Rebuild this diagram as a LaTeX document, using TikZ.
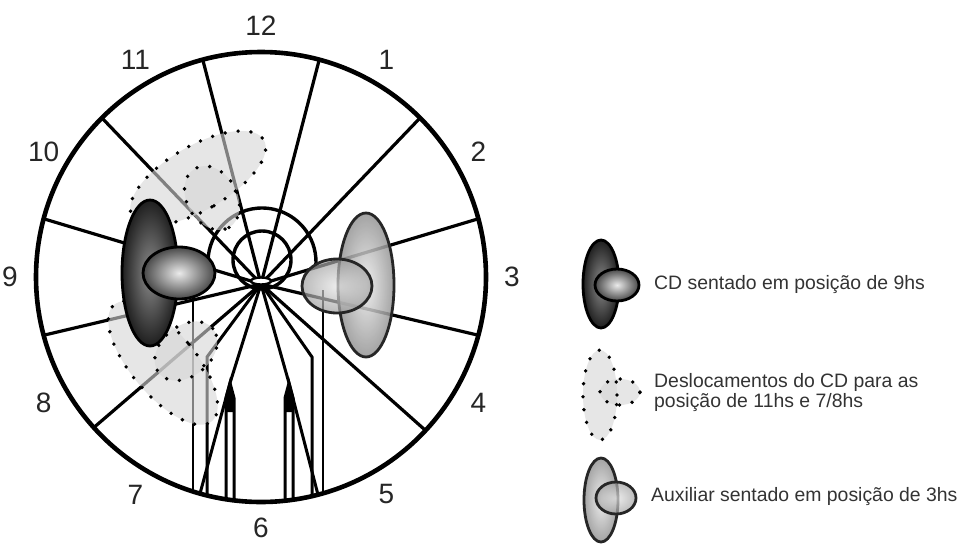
\documentclass[tikz,border=0pt]{standalone}
\usepackage{fontspec}
\setmainfont{Liberation Sans}
\usetikzlibrary{calc}

\begin{document}
\begin{tikzpicture}[x=1pt, y=1pt,
        spoke/.style={line width=3.2pt},
        rim/.style={line width=4.6pt},
        shaft/.style={line width=3pt},
        dots/.style={line width=3.8pt, line cap=round, dash pattern=on 0pt off 13pt},
        ghost/.style={fill=black!16, fill opacity=0.6},
        outline/.style={line width=2.8pt},
        hour/.style={font=\fontsize{28}{30}\selectfont, text=black!85, inner sep=0pt},
        caption/.style={font=\fontsize{19.4}{19.5}\selectfont, text=black!80, anchor=west, align=left, inner sep=0pt}]
        \def\R{225}

        \fill[white] (0,0) rectangle (963,-544);
        \useasboundingbox (0,0) rectangle (963,-544);

        \coordinate (O) at (261,-277);  % centre of the clock
        \coordinate (F) at (261,-284);  % where the spokes meet

        % Spokes between the hours
        \foreach \a in {15,45,75,105,135,165,195,222,-15,-43}
            \draw[spoke] (F) -- ($(O)+(\a:\R)$);

        % Instruments running down to 6
        \coordinate (lapex) at (230,-383);
        \coordinate (rapex) at (289,-383);
        \draw[shaft] (F) -- (lapex) -- (200,-493.6);
        \draw[shaft] (226,-499.4) -- (226,-398) -- (lapex) -- (234,-398) -- (234,-500.3);
        \fill (230,-379) -- (225,-412) -- (235,-412) -- cycle;
        \draw[shaft] (F) -- (rapex) -- (318,-494.7);
        \draw[shaft] (285,-500.6) -- (285,-398) -- (rapex) -- (293,-398) -- (293,-499.6);
        \fill (289,-379) -- (284,-412) -- (294,-412) -- cycle;

        % Bent shafts and the lines down from the two heads
        \draw[shaft] (F) -- (207,-357) -- (207,-495.4);
        \draw[shaft] (F) -- (312,-357) -- (312,-496.1);
        \draw[line width=2.6pt] (193,-280) -- (193,-491.5);
        \draw[line width=2.6pt] (323,-290) -- (323,-493.3);

        % Port in the middle
        \draw[line width=3.4pt] (262,-260) circle (29);
        \draw[line width=3.4pt] ($(262,-262)+(185:54)$) arc (185:-5:54);
        \draw[line width=2.4pt, fill=white] (261,-281) ellipse (10 and 3.5);

        % CD moved to 11 and to 7/8
        \fill[ghost, shift={(198,-178)}, rotate=-60] (0,0) ellipse (32 and 76);
        \fill[ghost, shift={(212,-198)}, rotate=-60] (0,0) ellipse (34 and 25);
        \draw[dots, shift={(198,-178)}, rotate=-60] (0,0) ellipse (32 and 76);
        \draw[dots, shift={(212,-198)}, rotate=-60] (0,0) ellipse (34 and 25);
        \fill[ghost, shift={(163,-363)}, rotate=40] (0,0) ellipse (32 and 76);
        \fill[ghost, shift={(186,-351)}, rotate=40] (0,0) ellipse (35 and 25);
        \draw[dots, shift={(163,-363)}, rotate=40] (0,0) ellipse (32 and 76);
        \draw[dots, shift={(186,-351)}, rotate=40] (0,0) ellipse (35 and 25);

        % CD seated at 9
        \shade[inner color=black!45, outer color=black!88] (150,-273) ellipse (28 and 73);
        \draw[outline] (150,-273) ellipse (28 and 73);
        \shade[inner color=black!8, outer color=black!72] (179,-273) ellipse (36 and 26);
        \draw[outline] (179,-273) ellipse (36 and 26);

        % Assistant seated at 3
        \shade[inner color=black!8, outer color=black!42, fill opacity=0.85] (366,-285) ellipse (28 and 72);
        \draw[outline, black!85] (366,-285) ellipse (28 and 72);
        \shade[inner color=black!10, outer color=black!38, fill opacity=0.7] (337,-286) ellipse (35 and 27);
        \draw[outline, black!85] (337,-286) ellipse (35 and 27);

        % Clock rim and hours
        \draw[rim] (O) circle (\R);
        \foreach \h in {1,...,12}
            \node[hour] (h\h) at ($(O)+({90-30*\h}:251)$) {\h};

        % Legend
        \shade[inner color=black!45, outer color=black!88] (601,-284) ellipse (18 and 44);
        \draw[outline] (601,-284) ellipse (18 and 44);
        \shade[inner color=black!8, outer color=black!72] (617,-285) ellipse (22 and 16);
        \draw[outline] (617,-285) ellipse (22 and 16);
        \node[caption] (cd9) at (654,-285) {CD sentado em posição de 9hs};

        \fill[ghost] (600,-395) ellipse (17 and 45);
        \fill[ghost] (620,-392) ellipse (20 and 13);
        \draw[dots] (600,-395) ellipse (17 and 45);
        \draw[dots] (620,-392) ellipse (20 and 13);
        \node[caption] (moves) at (654,-392.5) {Deslocamentos do CD para as\\posição de 11hs e 7/8hs};

        \shade[inner color=black!8, outer color=black!42, fill opacity=0.85] (601,-500) ellipse (17 and 42);
        \draw[outline, black!85] (601,-500) ellipse (17 and 42);
        \shade[inner color=black!10, outer color=black!38, fill opacity=0.7] (616,-498) ellipse (20 and 16);
        \draw[outline, black!85] (616,-498) ellipse (20 and 16);
        \node[caption] (aux3) at (651,-497) {Auxiliar sentado em posição de 3hs};
    \end{tikzpicture}
\end{document}
